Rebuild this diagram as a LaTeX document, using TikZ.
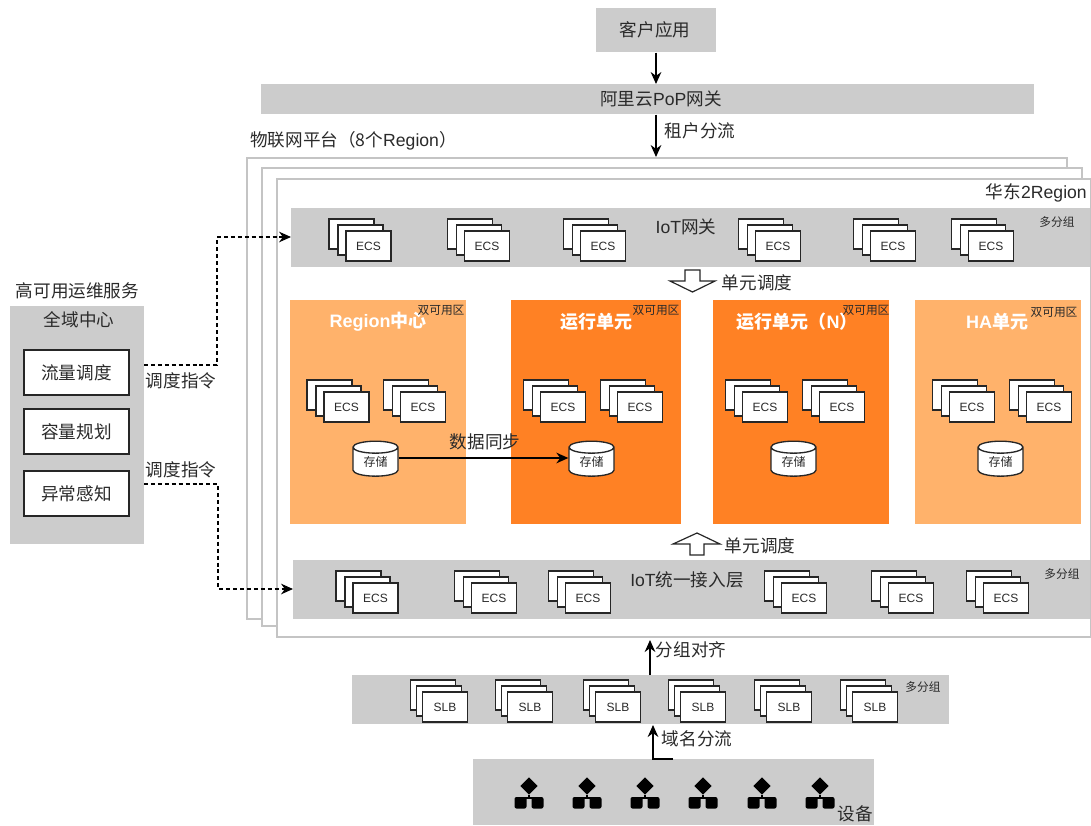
\documentclass[tikz,border=0pt]{standalone}
\usepackage{fontspec}
\setmainfont{Noto Sans CJK SC}
\newfontfamily\lat{Liberation Sans}
\usetikzlibrary{shapes.geometric,arrows.meta,calc}
\definecolor{band}{HTML}{CCCCCC}
\definecolor{lightor}{HTML}{FFB26B}
\definecolor{darkor}{HTML}{FF8124}
\definecolor{framec}{HTML}{C4C4C4}
\definecolor{ink}{HTML}{2A2A2A}
\tikzset{
  every node/.style={text=ink,inner sep=0pt,font=\fontsize{13.2}{15}\selectfont},
  bandbox/.style={fill=band,draw=none,anchor=north west},
  regionframe/.style={draw=framec,line width=1.5pt,fill=white},
  unitlight/.style={fill=lightor,draw=none},
  unitdark/.style={fill=darkor,draw=none},
  cardbox/.style={draw=black!85,line width=0.85pt,fill=white,minimum width=33.75pt,minimum height=22.5pt,font=\lat\fontsize{9}{10}\selectfont},
  whitebox/.style={draw=black!85,line width=1pt,fill=white,minimum width=78.75pt,minimum height=33.75pt,font=\fontsize{13.2}{15}\selectfont},
  dbnode/.style={cylinder,shape border rotate=90,aspect=0.5,draw=black!85,line width=1pt,fill=white,minimum width=33.75pt,minimum height=26.25pt,font=\fontsize{9}{10}\selectfont},
  tag/.style={font=\fontsize{8.8}{10}\selectfont},
  unittitle/.style={text=white,font=\bfseries\fontsize{13.5}{15}\selectfont},
  flow/.style={-{Stealth[length=9pt,width=8pt]},line width=1pt,draw=black},
  dashflow/.style={-{Stealth[length=9pt,width=8pt]},line width=0.8pt,draw=black,dash pattern=on 3pt off 2.2pt},
  blockarrow/.style={draw=black!85,line width=0.9pt,fill=white,line join=miter},
  devshape/.style={fill=black,draw=none},
  devline/.style={draw=black,line width=1pt},
}
% stack of three cards: #1 name, #2 x, #3 y, #4 label, #5 x offset of back, #6 y offset
\newcommand{\cardstack}[6]{%
  \node[cardbox] (#1back) at (#2-#5,#3-#6) {};
  \node[cardbox] (#1mid) at (#2-#5*0.47,#3-#6*0.5) {};
  \node[cardbox] (#1) at (#2,#3) {#4};
}
\newcommand{\devicon}[2]{%
  \node[diamond,devshape,minimum width=13pt,minimum height=13pt] (#1) at (#2,786) {};
  \fill[rounded corners=1.5pt] (#2-14.5,797) rectangle (#2-2.5,808.5);
  \fill[rounded corners=1.5pt] (#2+2.5,797) rectangle (#2+14.5,808.5);
  \draw[devline] (#1.south) -- ++(0,3) coordinate (#1j) (#2-8.5,798) |- (#1j) -| (#2+8.5,798);
}
\begin{document}
\begin{tikzpicture}[x=0.75pt,y=-0.75pt]
\useasboundingbox (0,0) rectangle (1091,825);
% top
\node[bandbox,minimum width=90pt,minimum height=33pt] (client) at (596,8) {};
\node (clientt) at (655,30) {客户应用};
\node[bandbox,minimum width=579.75pt,minimum height=22.5pt] (gw) at (261,84) {};
\node (gwt) at (661,99) {阿里云{\lat PoP}网关};
% frames
\node[regionframe,anchor=north west,minimum width=615pt,minimum height=345.75pt] (f1) at (246,157) {};
\node[regionframe,anchor=north west,minimum width=615pt,minimum height=343.5pt] (f2) at (261,167) {};
\node[regionframe,anchor=north west,minimum width=610.5pt,minimum height=343.5pt] (f3) at (276,178) {};
\node[anchor=west] (platform) at (250,141) {物联网平台（8个{\lat Region}）};
\node[anchor=east] (huadong) at (1087,193) {华东{\lat 2Region}};
\draw[flow] (client.south -| 656,0) -- (gw.north -| 656,0);
\draw[flow] (gw.south -| 656,0) -- (f1.north -| 656,0);
\node (rent) at (700,131) {租户分流};
% IoT gateway band
\node[bandbox,minimum width=599.25pt,minimum height=44.25pt] (iotgw) at (291,208) {};
\node (iotgwt) at (686,227) {{\lat IoT}网关};
\node[tag] (tag1) at (1057,222) {多分组};
\cardstack{ga}{368.5}{246}{ECS}{17}{12}
\cardstack{gb}{487}{246}{ECS}{17}{12}
\cardstack{gc}{603}{246}{ECS}{17}{12}
\cardstack{gd}{778}{246}{ECS}{17}{12}
\cardstack{ge}{893}{246}{ECS}{17}{12}
\cardstack{gf}{991}{246}{ECS}{17}{12}
\draw[blockarrow] (685,270) -- (700,270) -- (700,281) -- (715,281) -- (692.5,292) -- (670,281) -- (685,281) -- cycle;
\node (bdt) at (757,283) {单元调度};
% units
\node[unitlight,anchor=north west,minimum width=132pt,minimum height=168pt] (u1) at (290,300) {};
\node[unitdark,anchor=north west,minimum width=127.5pt,minimum height=168pt] (u2) at (511,300) {};
\node[unitdark,anchor=north west,minimum width=132pt,minimum height=168pt] (u3) at (713,300) {};
\node[unitlight,anchor=north west,minimum width=124.5pt,minimum height=168pt] (u4) at (915,300) {};
\node[unittitle] (t1) at (378,322) {{\lat\bfseries Region}中心};
\node[unittitle] (t2) at (596,322) {运行单元};
\node[unittitle] (t3) at (797,322) {运行单元（{\lat\bfseries N}）};
\node[unittitle] (t4) at (997,322) {{\lat\bfseries HA}单元};
\node[tag] (z1) at (441,310) {双可用区};
\node[tag] (z2) at (656,310) {双可用区};
\node[tag] (z3) at (866,310) {双可用区};
\node[tag] (z4) at (1054,312) {双可用区};
\cardstack{ua}{346.5}{407}{ECS}{17}{12}
\cardstack{ub}{423}{407}{ECS}{17}{12}
\cardstack{uc}{563}{407}{ECS}{17}{12}
\cardstack{ud}{640}{407}{ECS}{17}{12}
\cardstack{ue}{765}{407}{ECS}{17}{12}
\cardstack{uf}{842}{407}{ECS}{17}{12}
\cardstack{ug}{972}{407}{ECS}{17}{12}
\cardstack{uh}{1049}{407}{ECS}{17}{12}
\node[dbnode] (db1) at (375.5,462) {存储};
\node[dbnode] (db2) at (591.5,462) {存储};
\node[dbnode] (db3) at (793.5,462) {存储};
\node[dbnode] (db4) at (1000.5,462) {存储};
\draw[flow] ($(db1.east)+(0,-4)$) -- ($(db2.west)+(0,-4)$);
\node (sync) at (485,442) {数据同步};
% access layer
\draw[blockarrow] (690,555) -- (704,555) -- (704,544) -- (720,544) -- (697,533) -- (673,544) -- (690,544) -- cycle;
\node (but) at (760,546) {单元调度};
\node[bandbox,minimum width=597.75pt,minimum height=44.25pt] (iotin) at (293,560) {};
\node (iotint) at (687,580) {{\lat IoT}统一接入层};
\node[tag] (tag2) at (1062,574) {多分组};
\cardstack{aa}{375.5}{598}{ECS}{17}{12}
\cardstack{ab}{494}{598}{ECS}{17}{12}
\cardstack{ac}{588}{598}{ECS}{17}{12}
\cardstack{ad}{804}{598}{ECS}{17}{12}
\cardstack{ae}{911}{598}{ECS}{17}{12}
\cardstack{af}{1006}{598}{ECS}{17}{12}
% SLB
\node[bandbox,minimum width=447.75pt,minimum height=36.75pt] (slb) at (352,675) {};
\node[tag] (tag3) at (923,687) {多分组};
\cardstack{sa}{445}{707}{SLB}{12}{12}
\cardstack{sb}{530}{707}{SLB}{12}{12}
\cardstack{sc}{618}{707}{SLB}{12}{12}
\cardstack{sd}{703}{707}{SLB}{12}{12}
\cardstack{se}{789}{707}{SLB}{12}{12}
\cardstack{sf}{875}{707}{SLB}{12}{12}
\coordinate (up1) at (650,640);
\draw[flow] (slb.north -| up1) -- (up1);
\node (alignt) at (691,650) {分组对齐};
% devices
\node[bandbox,minimum width=300.75pt,minimum height=49.5pt] (dev) at (473,759) {};
\coordinate (dstart) at (673,759);
\coordinate (dtop) at (653,725);
\draw[flow] (dstart) -| (dtop);
\node (domt) at (697,739) {域名分流};
\devicon{da}{529}
\devicon{db}{587}
\devicon{dc}{645}
\devicon{dd}{703}
\devicon{de}{762}
\devicon{df}{820}
\node (devt) at (855,814) {设备};
% left panel
\node (opst) at (77.5,291) {高可用运维服务};
\node[bandbox,minimum width=100.5pt,minimum height=178.5pt] (ops) at (10,306) {};
\node (opsc) at (79,320) {全域中心};
\node[whitebox] (w1) at (76.5,372.5) {流量调度};
\node[whitebox] (w2) at (76.5,431.5) {容量规划};
\node[whitebox] (w3) at (76.5,493.5) {异常感知};
\coordinate (c1a) at (144,365);
\coordinate (c1b) at (217,365);
\coordinate (c1c) at (291,237);
\draw[dashflow] (c1a) -- (c1b) |- (c1c);
\coordinate (c2a) at (144,484);
\coordinate (c2b) at (218,484);
\coordinate (c2c) at (293,589);
\draw[dashflow] (c2a) -- (c2b) |- (c2c);
\node (cmd1) at (181,381) {调度指令};
\node (cmd2) at (181,470) {调度指令};
\end{tikzpicture}
\end{document}
